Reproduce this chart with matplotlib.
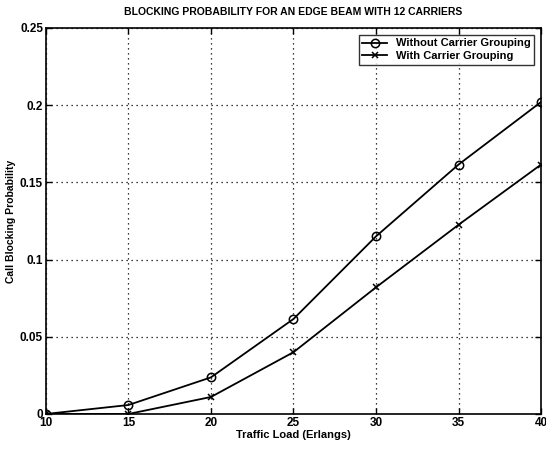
import matplotlib
matplotlib.use('Agg')
import matplotlib.pyplot as plt

plt.rcParams['font.family'] = ['Liberation Sans', 'DejaVu Sans']

traffic_load = [10, 15, 20, 25, 30, 35, 40]
without_grouping = [0.0, 0.0058, 0.0237, 0.0615, 0.115, 0.1615, 0.202]
with_grouping = [0.0, 0.0, 0.011, 0.040, 0.082, 0.1225, 0.1615]

x_ticks = [10, 15, 20, 25, 30, 35, 40]
y_ticks = [0, 0.05, 0.1, 0.15, 0.2, 0.25]
y_tick_labels = ['0', '0.05', '0.1', '0.15', '0.2', '0.25']

fig = plt.figure(figsize=(5.46, 4.49), dpi=100)
ax = fig.add_axes([0.084, 0.078, 0.907, 0.86])

ax.plot(traffic_load, without_grouping, color='black', lw=1.3, marker='o',
        markersize=6, markerfacecolor='none', markeredgewidth=1.1,
        label='Without Carrier Grouping')
ax.plot(traffic_load, with_grouping, color='black', lw=1.3, marker='x',
        markersize=5, markeredgewidth=1.1, label='With Carrier Grouping')

ax.set_xlim(10, 40)
ax.set_ylim(0, 0.25)
ax.set_xticks(x_ticks)
ax.set_yticks(y_ticks)
ax.set_yticklabels(y_tick_labels)
ax.tick_params(direction='in', top=True, right=True, labelsize=8.5,
               length=4, width=1)
ax.tick_params(axis='x', pad=2)
ax.tick_params(axis='y', pad=2)
for lbl in ax.get_xticklabels() + ax.get_yticklabels():
    lbl.set_fontweight('bold')
for sp in ax.spines.values():
    sp.set_linewidth(1.2)

ax.grid(True, linestyle=(0, (1, 3)), color='black', linewidth=0.9)

ax.set_title('BLOCKING PROBABILITY FOR AN EDGE BEAM WITH 12 CARRIERS',
             fontsize=7.5, fontweight='bold', pad=9)
ax.set_xlabel('Traffic Load (Erlangs)', fontsize=8, fontweight='bold', labelpad=1)
ax.set_ylabel('Call Blocking Probability', fontsize=7.5, fontweight='bold', labelpad=3)

leg = ax.legend(loc='upper right', fontsize=8, frameon=True, fancybox=False,
                edgecolor='black', borderaxespad=0.6, handlelength=2.2,
                labelspacing=0.2, borderpad=0.35)
leg.get_frame().set_linewidth(1.0)
for t in leg.get_texts():
    t.set_fontweight('bold')

fig.savefig('out.png', dpi=100)
